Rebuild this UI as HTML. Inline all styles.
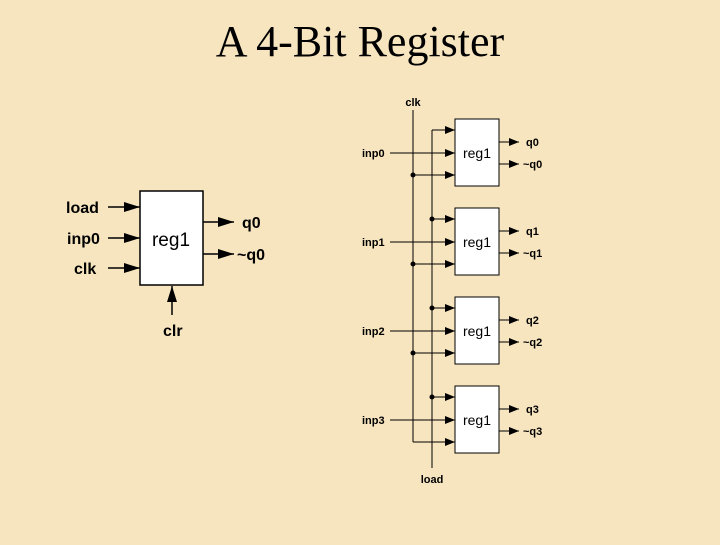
<!DOCTYPE html>
<html><head><style>
html,body{margin:0;padding:0;}
body{width:720px;height:540px;background:#f7e5c0;overflow:hidden;}
</style></head><body>
<svg width="720" height="540" xmlns="http://www.w3.org/2000/svg">
<defs>
<marker id="a" markerWidth="10" markerHeight="8" refX="10" refY="4" orient="auto" markerUnits="userSpaceOnUse"><path d="M0,0 L10,4 L0,8z" fill="#000"/></marker>
<marker id="b" markerWidth="16" markerHeight="10" refX="16" refY="5" orient="auto" markerUnits="userSpaceOnUse"><path d="M0,0 L16,5 L0,10z" fill="#000"/></marker>
</defs>
<text x="360" y="56" text-anchor="middle" font-family="Liberation Serif" font-size="44">A 4-Bit Register</text>
<g font-family="Liberation Sans" font-weight="bold" font-size="16">
<rect x="140" y="191" width="63" height="94" fill="#fff" stroke="#000" stroke-width="1.5"/>
<text x="171" y="246" text-anchor="middle" font-weight="normal" font-size="19">reg1</text>
<line x1="108" y1="207" x2="140" y2="207" stroke="#000" stroke-width="1.5" marker-end="url(#b)"/>
<line x1="108" y1="238" x2="140" y2="238" stroke="#000" stroke-width="1.5" marker-end="url(#b)"/>
<line x1="108" y1="268" x2="140" y2="268" stroke="#000" stroke-width="1.5" marker-end="url(#b)"/>
<line x1="203" y1="222" x2="234" y2="222" stroke="#000" stroke-width="1.5" marker-end="url(#b)"/>
<line x1="203" y1="254" x2="234" y2="254" stroke="#000" stroke-width="1.5" marker-end="url(#b)"/>
<line x1="172" y1="315" x2="172" y2="286" stroke="#000" stroke-width="1.5" marker-end="url(#b)"/>
<text x="66" y="213">load</text>
<text x="67" y="244">inp0</text>
<text x="74" y="274">clk</text>
<text x="242" y="228">q0</text>
<text x="237" y="260">~q0</text>
<text x="163" y="336">clr</text>
</g>
<g font-family="Liberation Sans" font-weight="bold" font-size="11" stroke-width="1">
<text x="413" y="106" text-anchor="middle">clk</text>
<text x="432" y="483" text-anchor="middle">load</text>
<line x1="413" y1="110" x2="413" y2="442" stroke="#000"/>
<line x1="432" y1="130" x2="432" y2="468" stroke="#000"/>
<g>
<rect x="455" y="119" width="44" height="67" fill="#fff" stroke="#000"/>
<text x="477" y="158" text-anchor="middle" font-weight="normal" font-size="14">reg1</text>
<line x1="432" y1="130" x2="455" y2="130" stroke="#000" marker-end="url(#a)"/>
<line x1="390" y1="153" x2="455" y2="153" stroke="#000" marker-end="url(#a)"/>
<line x1="413" y1="175" x2="455" y2="175" stroke="#000" marker-end="url(#a)"/>
<line x1="499" y1="142" x2="519" y2="142" stroke="#000" marker-end="url(#a)"/>
<line x1="499" y1="164" x2="519" y2="164" stroke="#000" marker-end="url(#a)"/>
<circle cx="413" cy="175" r="2.5"/>
<text x="362" y="157">inp0</text>
<text x="526" y="146">q0</text>
<text x="523" y="168">~q0</text>
</g>
<g transform="translate(0,89)">
<rect x="455" y="119" width="44" height="67" fill="#fff" stroke="#000"/>
<text x="477" y="158" text-anchor="middle" font-weight="normal" font-size="14">reg1</text>
<line x1="432" y1="130" x2="455" y2="130" stroke="#000" marker-end="url(#a)"/>
<line x1="390" y1="153" x2="455" y2="153" stroke="#000" marker-end="url(#a)"/>
<line x1="413" y1="175" x2="455" y2="175" stroke="#000" marker-end="url(#a)"/>
<line x1="499" y1="142" x2="519" y2="142" stroke="#000" marker-end="url(#a)"/>
<line x1="499" y1="164" x2="519" y2="164" stroke="#000" marker-end="url(#a)"/>
<circle cx="413" cy="175" r="2.5"/><circle cx="432" cy="130" r="2.5"/>
<text x="362" y="157">inp1</text>
<text x="526" y="146">q1</text>
<text x="523" y="168">~q1</text>
</g>
<g transform="translate(0,178)">
<rect x="455" y="119" width="44" height="67" fill="#fff" stroke="#000"/>
<text x="477" y="158" text-anchor="middle" font-weight="normal" font-size="14">reg1</text>
<line x1="432" y1="130" x2="455" y2="130" stroke="#000" marker-end="url(#a)"/>
<line x1="390" y1="153" x2="455" y2="153" stroke="#000" marker-end="url(#a)"/>
<line x1="413" y1="175" x2="455" y2="175" stroke="#000" marker-end="url(#a)"/>
<line x1="499" y1="142" x2="519" y2="142" stroke="#000" marker-end="url(#a)"/>
<line x1="499" y1="164" x2="519" y2="164" stroke="#000" marker-end="url(#a)"/>
<circle cx="413" cy="175" r="2.5"/><circle cx="432" cy="130" r="2.5"/>
<text x="362" y="157">inp2</text>
<text x="526" y="146">q2</text>
<text x="523" y="168">~q2</text>
</g>
<g transform="translate(0,267)">
<rect x="455" y="119" width="44" height="67" fill="#fff" stroke="#000"/>
<text x="477" y="158" text-anchor="middle" font-weight="normal" font-size="14">reg1</text>
<line x1="432" y1="130" x2="455" y2="130" stroke="#000" marker-end="url(#a)"/>
<line x1="390" y1="153" x2="455" y2="153" stroke="#000" marker-end="url(#a)"/>
<line x1="413" y1="175" x2="455" y2="175" stroke="#000" marker-end="url(#a)"/>
<line x1="499" y1="142" x2="519" y2="142" stroke="#000" marker-end="url(#a)"/>
<line x1="499" y1="164" x2="519" y2="164" stroke="#000" marker-end="url(#a)"/>
<circle cx="432" cy="130" r="2.5"/>
<text x="362" y="157">inp3</text>
<text x="526" y="146">q3</text>
<text x="523" y="168">~q3</text>
</g>
</g>
</svg>
</body></html>
